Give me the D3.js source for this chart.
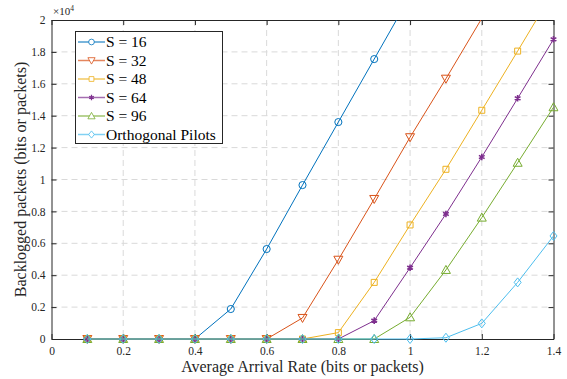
<!DOCTYPE html>
<html>
<head>
<meta charset="utf-8">
<script src="https://cdn.jsdelivr.net/npm/d3@7"></script>
<style>
  html, body { margin: 0; padding: 0; background: #fff; }
  svg { display: block; }
  svg text { font-family: "Liberation Serif", "Times New Roman", Times, "DejaVu Serif", serif !important; }
</style>
</head>
<body>
<svg id="chart" width="567" height="379"></svg>
<script>
// ---- data ----
const xValues = [0.1, 0.2, 0.3, 0.4, 0.5, 0.6, 0.7, 0.8, 0.9, 1.0, 1.1, 1.2, 1.3, 1.4];
const seriesNames = ["S = 16", "S = 32", "S = 48", "S = 64", "S = 96", "Orthogonal Pilots"];
const s16 = [0, 0, 0, 0, 1880, 5640, 9650, 13600, 17550, 21500];
const s32 = [0, 0, 0, 0, 0, 0, 1320, 4970, 8780, 12650, 16320, 20100];
const s48 = [0, 0, 0, 0, 0, 0, 0, 400, 3550, 7150, 10640, 14340, 18050, 21800];
const s64 = [0, 0, 0, 0, 0, 0, 0, 0, 1150, 4470, 7840, 11410, 15090, 18790];
const s96 = [0, 0, 0, 0, 0, 0, 0, 0, 0, 1360, 4330, 7610, 11050, 14530];
const sOrth = [0, 0, 0, 0, 0, 0, 0, 0, 0, 0, 80, 980, 3550, 6460];
const xTicks = [0, 0.2, 0.4, 0.6, 0.8, 1, 1.2, 1.4];
const yTicks = [0, 2000, 4000, 6000, 8000, 10000, 12000, 14000, 16000, 18000, 20000];
const yTickLabels = ["0", "0.2", "0.4", "0.6", "0.8", "1", "1.2", "1.4", "1.6", "1.8", "2"];
const colors = ["#0072BD", "#D95319", "#EDB120", "#7E2F8E", "#77AC30", "#4DBEEE"];
const markers = ["circle", "triangleDown", "square", "asterisk", "triangleUp", "diamond"];

const allSeries = [s16, s32, s48, s64, s96, sOrth];

// ---- layout ----
const FONT = "'Liberation Serif', 'Times New Roman', serif";
const svg = d3.select("#chart");
const L = 51.5, R = 553.5, T = 20, B = 339;
const x = d3.scaleLinear().domain([0, 1.4]).range([L, R]);
const y = d3.scaleLinear().domain([0, 20000]).range([B, T]);
const axisColor = "#262626";

svg.append("defs").append("clipPath").attr("id", "plotclip")
  .append("rect").attr("x", L - 5).attr("y", T).attr("width", R - L + 10).attr("height", B - T + 5);

// grid
const grid = svg.append("g");
grid.selectAll("line.gx").data(xTicks.slice(1, -1)).join("line")
  .attr("x1", d => x(d)).attr("x2", d => x(d)).attr("y1", T).attr("y2", B)
  .attr("stroke", "#d9d9d9").attr("stroke-width", 1).attr("stroke-dasharray", "6,4");
grid.selectAll("line.gy").data(yTicks.slice(1, -1)).join("line")
  .attr("y1", d => y(d)).attr("y2", d => y(d)).attr("x1", L).attr("x2", R)
  .attr("stroke", "#d9d9d9").attr("stroke-width", 1).attr("stroke-dasharray", "6,4");

// axes
const fmtY = d => yTickLabels[yTicks.indexOf(d)];
const axB = svg.append("g").attr("transform", `translate(0,${B})`)
  .call(d3.axisBottom(x).tickValues(xTicks).tickSizeInner(-5).tickSizeOuter(0).tickPadding(8).tickFormat(d3.format("~g")));
const axT = svg.append("g").attr("transform", `translate(0,${T})`)
  .call(d3.axisTop(x).tickValues(xTicks).tickSizeInner(-5).tickSizeOuter(0).tickFormat(""));
const axL = svg.append("g").attr("transform", `translate(${L},0)`)
  .call(d3.axisLeft(y).tickValues(yTicks).tickSizeInner(-5).tickSizeOuter(0).tickPadding(6).tickFormat(fmtY));
const axR = svg.append("g").attr("transform", `translate(${R},0)`)
  .call(d3.axisRight(y).tickValues(yTicks).tickSizeInner(-5).tickSizeOuter(0).tickFormat(""));
[axB, axT, axL, axR].forEach(a => {
  a.attr("font-family", FONT);
  a.select(".domain").attr("stroke", axisColor).attr("stroke-width", 1);
  a.selectAll(".tick line").attr("stroke", axisColor);
  a.selectAll("text").attr("fill", axisColor).attr("font-size", 11.5)
    .style("font-family", FONT);
});
axB.selectAll("text").attr("dy", "0.71em");

// exponent label
const ex = svg.append("text").attr("x", 53).attr("y", 15).attr("fill", axisColor)
  .attr("font-size", 11).style("font-family", FONT);
ex.append("tspan").text("×10");
ex.append("tspan").attr("dy", -4).attr("font-size", 7.5).text("4");

// axis labels
svg.append("text").attr("x", (L + R) / 2).attr("y", 372).attr("text-anchor", "middle")
  .style("font-family", FONT)
  .attr("fill", axisColor).attr("font-size", 16).text("Average Arrival Rate (bits or packets)");
svg.append("text").attr("transform", `translate(25.5,${(T + B) / 2}) rotate(-90)`)
  .style("font-family", FONT)
  .attr("text-anchor", "middle").attr("fill", axisColor).attr("font-size", 16)
  .text("Backlogged packets (bits or packets)");

// markers
function markerPath(type) {
  switch (type) {
    case "circle": return d3.symbol(d3.symbolCircle, 40)();
    case "square": return d3.symbol(d3.symbolSquare, 36)();
    case "triangleUp": return "M0,-4.5L4.5,3.5L-4.5,3.5Z";
    case "triangleDown": return "M0,4.5L4.5,-3.5L-4.5,-3.5Z";
    case "diamond": return "M0,-4.5L3.5,0L0,4.5L-3.5,0Z";
    case "asterisk": return d3.symbol(d3.symbolAsterisk, 30)();
  }
}

const plot = svg.append("g").attr("clip-path", "url(#plotclip)");
const line = d3.line().x(d => x(d[0])).y(d => y(d[1]));
allSeries.forEach((vals, i) => {
  const pts = vals.map((v, j) => [xValues[j], v]);
  const g = plot.append("g");
  g.append("path").datum(pts).attr("d", line).attr("fill", "none")
    .attr("stroke", colors[i]).attr("stroke-width", 1);
  g.selectAll("path.m").data(pts.filter(p => p[1] <= 20000)).join("path")
    .attr("class", "m")
    .attr("transform", d => `translate(${x(d[0])},${y(d[1])})`)
    .attr("d", markerPath(markers[i]))
    .attr("fill", markers[i] === "asterisk" ? colors[i] : "none")
    .attr("stroke", colors[i]).attr("stroke-width", markers[i] === "asterisk" ? 1.6 : 1);
});

// legend
const lg = svg.append("g");
lg.append("rect").attr("x", 75.5).attr("y", 31.5).attr("width", 147).attr("height", 112)
  .attr("fill", "#fff").attr("stroke", axisColor).attr("stroke-width", 1);
seriesNames.forEach((name, i) => {
  const yy = 42 + i * 18.5;
  lg.append("line").attr("x1", 78).attr("x2", 105).attr("y1", yy).attr("y2", yy)
    .attr("stroke", colors[i]).attr("stroke-width", 1.5).attr("stroke-opacity", 0.7);
  lg.append("path").attr("transform", `translate(91.5,${yy}) scale(0.8)`)
    .attr("d", markerPath(markers[i]))
    .attr("fill", markers[i] === "asterisk" ? colors[i] : "#fff")
    .attr("stroke", colors[i]).attr("stroke-width", markers[i] === "asterisk" ? 1.6 : 1);
  lg.append("text").attr("x", 106).attr("y", yy).attr("dy", "0.35em")
    .style("font-family", FONT)
    .attr("font-size", 15.5).attr("fill", "#000").text(name);
});
</script>
</body>
</html>
